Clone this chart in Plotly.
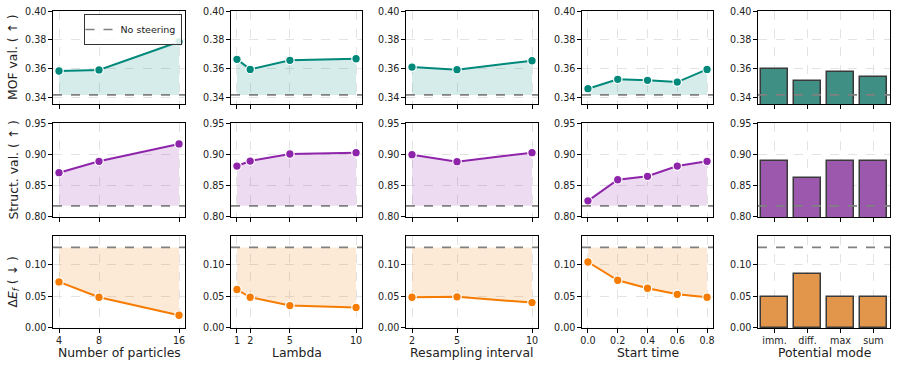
import plotly.graph_objects as go
from plotly.subplots import make_subplots

# x values per sweep
particles = [4, 8, 16]
lambdas = [1, 2, 5, 10]
resampling = [2, 5, 10]
start_times = [0.0, 0.2, 0.4, 0.6, 0.8]
potential_modes = ["imm.", "diff.", "max", "sum"]

# MOF validity (higher is better)
mof_particles = [0.3585, 0.3592, 0.3788]
mof_lambda = [0.3666, 0.3596, 0.3659, 0.3670]
mof_resampling = [0.3612, 0.3594, 0.3656]
mof_start = [0.3462, 0.3527, 0.3520, 0.3508, 0.3596]
mof_potential = [0.3597, 0.3518, 0.3578, 0.3543]
mof_no_steering = 0.3419

# structural validity (higher is better)
struct_particles = [0.8707, 0.8890, 0.9167]
struct_lambda = [0.8814, 0.8894, 0.9006, 0.9028]
struct_resampling = [0.8996, 0.8884, 0.9028]
struct_start = [0.8257, 0.8595, 0.8650, 0.8814, 0.8890]
struct_potential = [0.889, 0.862, 0.890, 0.890]
struct_no_steering = 0.8177

# formation energy error (lower is better)
ef_particles = [0.0726, 0.0484, 0.0200]
ef_lambda = [0.0606, 0.0484, 0.0353, 0.0322]
ef_resampling = [0.0484, 0.0490, 0.0400]
ef_start = [0.1040, 0.0752, 0.0626, 0.0530, 0.0484]
ef_potential = [0.0489, 0.0847, 0.0490, 0.0490]
ef_no_steering = 0.127

W, H = 897, 370
FONT = "DejaVu Sans"
TXT = "#222222"

# panel edges in pixels
col_px = [(53, 185), (231, 362), (406, 538), (582, 713), (758, 890)]
row_px = [(11, 104), (123, 217), (236, 328)]


def px_x(v):
    return v / W


def px_y(v):
    return 1 - v / H


rows = [
    dict(name="MOF val. ( ↑ )", line="#00897b", fill="rgba(0,137,123,0.16)", bar="#3f8f84",
         base=mof_no_steering, rng=[0.3356, 0.4001], ticks=[0.34, 0.36, 0.38, 0.40],
         data=[mof_particles, mof_lambda, mof_resampling, mof_start, mof_potential]),
    dict(name="Struct. val. ( ↑ )", line="#8e24aa", fill="rgba(142,36,170,0.16)", bar="#9b58ad",
         base=struct_no_steering, rng=[0.7999, 0.9502], ticks=[0.80, 0.85, 0.90, 0.95],
         data=[struct_particles, struct_lambda, struct_resampling, struct_start, struct_potential]),
    dict(name="Δ<i>E</i><sub><i>f</i></sub> ( ↓ )", line="#f57c00", fill="rgba(245,124,0,0.16)", bar="#e2964b",
         base=ef_no_steering, rng=[-0.0001, 0.145], ticks=[0.0, 0.05, 0.10],
         data=[ef_particles, ef_lambda, ef_resampling, ef_start, ef_potential]),
]

cols = [
    dict(title="Number of particles", x=particles, rng=[3.4, 16.6], fmt=None),
    dict(title="Lambda", x=lambdas, rng=[0.55, 10.45], fmt=None),
    dict(title="Resampling interval", x=resampling, rng=[1.6, 10.4], fmt=None),
    dict(title="Start time", x=start_times, rng=[-0.04, 0.84], fmt=".1f"),
    dict(title="Potential mode", x=potential_modes, rng=[-0.5, 3.5], fmt=None),
]

fig = make_subplots(rows=3, cols=5)

for r, rd in enumerate(rows, start=1):
    for c, cd in enumerate(cols, start=1):
        ys = rd["data"][c - 1]
        xs = cd["x"]
        if c < 5:
            fig.add_trace(go.Scatter(
                x=xs, y=[rd["base"]] * len(xs), mode="lines",
                line=dict(width=0), showlegend=False, hoverinfo="skip",
            ), row=r, col=c)
            fig.add_trace(go.Scatter(
                x=xs, y=ys, mode="lines+markers", fill="tonexty", fillcolor=rd["fill"],
                line=dict(color=rd["line"], width=2),
                marker=dict(size=8.5, color=rd["line"], line=dict(color="white", width=1.2)),
                showlegend=False,
            ), row=r, col=c)
        else:
            fig.add_trace(go.Bar(
                x=xs, y=ys, width=0.8, marker_color=rd["bar"],
                marker_line=dict(color="#3a3a3a", width=1.5), showlegend=False,
            ), row=r, col=c)
        fig.add_hline(y=rd["base"], line=dict(color="#808080", width=1.6, dash="dash"),
                      row=r, col=c)

        x0, x1 = col_px[c - 1]
        y0, y1 = row_px[r - 1]
        fig.update_xaxes(
            domain=[px_x(x0), px_x(x1)], range=cd["rng"],
            tickvals=None if c == 5 else xs, tickformat=cd["fmt"],
            showticklabels=(r == 3),
            row=r, col=c,
        )
        if c == 5:
            fig.update_xaxes(type="category", row=r, col=c)
        fig.update_yaxes(
            domain=[px_y(y1), px_y(y0)], range=rd["rng"], tickvals=rd["ticks"],
            tickformat=".2f", row=r, col=c,
        )

axis_style = dict(
    showline=True, mirror=True, linecolor="black", linewidth=1.3,
    ticks="outside", ticklen=3.5, tickcolor="black", tickwidth=1,
    showgrid=True, gridcolor="#e3e3e3", griddash="dash", gridwidth=0.8,
    zeroline=False, automargin=False, ticklabeloverflow="allow",
    tickfont=dict(size=9.6, color=TXT),
)
fig.update_xaxes(**axis_style)
fig.update_yaxes(**axis_style)

# legend entry for the baseline
fig.add_trace(go.Scatter(
    x=[None], y=[None], mode="lines", name="No steering",
    line=dict(color="#808080", width=1.6, dash="dash"),
), row=1, col=1)

annotations = []
for r, rd in enumerate(rows):
    y0, y1 = row_px[r]
    annotations.append(dict(
        text=rd["name"], x=px_x(12.5), y=px_y((y0 + y1) / 2), xref="paper", yref="paper",
        textangle=-90, showarrow=False, xanchor="center", yanchor="middle",
        font=dict(size=12.4, color=TXT),
    ))
for c, cd in enumerate(cols):
    x0, x1 = col_px[c]
    annotations.append(dict(
        text=cd["title"], x=px_x((x0 + x1) / 2), y=px_y(352), xref="paper", yref="paper",
        showarrow=False, xanchor="center", yanchor="middle",
        font=dict(size=12.4, color=TXT),
    ))

fig.update_layout(
    width=W, height=H,
    margin=dict(l=0, r=0, t=0, b=0),
    plot_bgcolor="white", paper_bgcolor="white",
    font=dict(family=FONT, color=TXT),
    annotations=annotations,
    bargap=0,
    showlegend=True,
    legend=dict(
        x=px_x(181.5), y=px_y(14), xanchor="right", yanchor="top",
        bgcolor="rgba(255,255,255,0.85)", bordercolor="#333333", borderwidth=1,
        font=dict(size=9.5, color=TXT), itemwidth=30, tracegroupgap=0,
        indentation=-4,
    ),
)

# drop the default 8px page margin so the figure sits at the window corner
fig.write_html(
    "out.html",
    config={"displayModeBar": False},
    post_script="document.body.style.margin = '0';",
)
